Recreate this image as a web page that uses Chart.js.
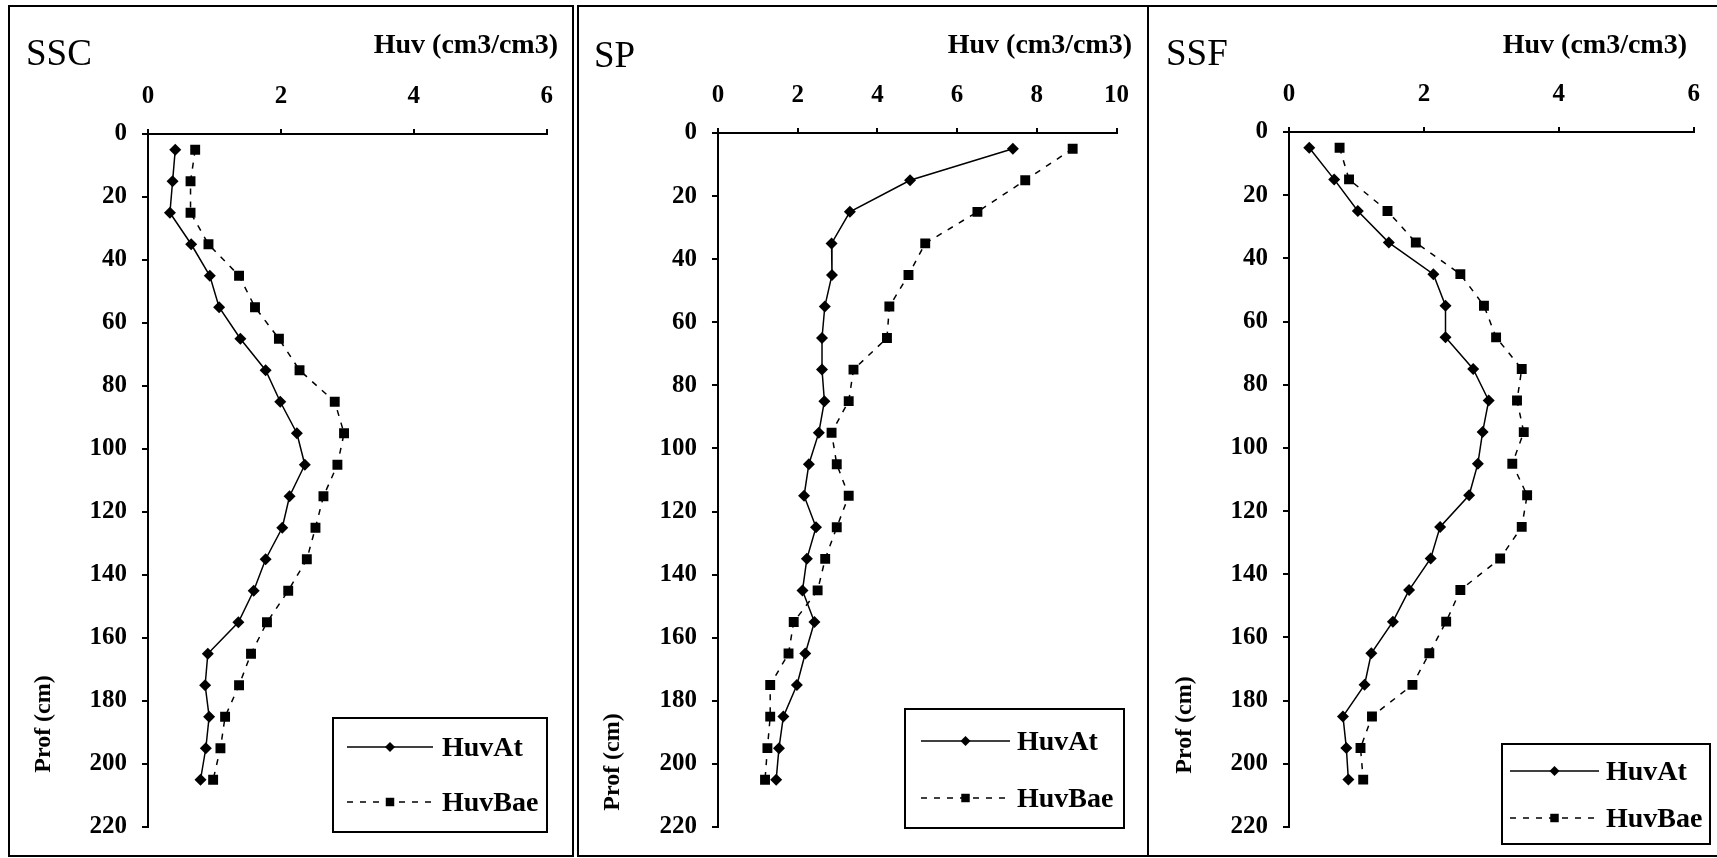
<!DOCTYPE html>
<html lang="fr">
<head>
<meta charset="UTF-8">
<title>Profils Huv - SSC / SP / SSF</title>
<script src="https://cdn.jsdelivr.net/npm/chart.js@4.4.0/dist/chart.umd.min.js"></script>
<style>
    body {
        margin: 0;
        width: 1717px;
        height: 858px;
        background: #fff;
        position: relative;
        overflow: hidden;
        font-family: 'Liberation Serif', 'Times New Roman', serif;
        color: #000;
    }
    .frame {
        position: absolute;
        top: 5px;
        height: 848px;
        border: 2px solid #000;
    }
    canvas {
        position: absolute;
        top: 0;
    }
    .name {
        position: absolute;
        font-size: 37px;
        line-height: 1;
        white-space: nowrap;
    }
    .unit {
        position: absolute;
        top: 30px;
        width: 220px;
        text-align: right;
        font-size: 28px;
        font-weight: bold;
        line-height: 1;
        white-space: nowrap;
    }
    .prof {
        position: absolute;
        width: 140px;
        height: 28px;
        line-height: 28px;
        text-align: center;
        font-size: 24px;
        font-weight: bold;
        transform: rotate(-90deg);
        white-space: nowrap;
    }
</style>
</head>
<body>
    <div class="frame" style="left:8px;width:562px"></div>
    <div class="frame" style="left:577px;width:568px"></div>
    <div class="frame" style="left:1147px;width:572px;border-right:none"></div>

    <canvas id="chartSSC" width="560" height="858" style="left:10px;width:560px;height:858px"></canvas>
    <canvas id="chartSP" width="566" height="858" style="left:580px;width:566px;height:858px"></canvas>
    <canvas id="chartSSF" width="567" height="858" style="left:1150px;width:567px;height:858px"></canvas>

    <div class="name" style="left:26px;top:34px">SSC</div>
    <div class="name" style="left:594px;top:36px">SP</div>
    <div class="name" style="left:1166px;top:34px">SSF</div>

    <div class="unit" style="left:338px">Huv (cm3/cm3)</div>
    <div class="unit" style="left:912px">Huv (cm3/cm3)</div>
    <div class="unit" style="left:1467px">Huv (cm3/cm3)</div>

    <div class="prof" style="left:-28px;top:710px">Prof (cm)</div>
    <div class="prof" style="left:541px;top:748px">Prof (cm)</div>
    <div class="prof" style="left:1113px;top:711px">Prof (cm)</div>

<script>
    // depth of each measure (cm)
    const depths = [5, 15, 25, 35, 45, 55, 65, 75, 85, 95, 105, 115, 125, 135, 145, 155, 165, 175, 185, 195, 205];
    const depthTicks = [0, 20, 40, 60, 80, 100, 120, 140, 160, 180, 200, 220];

    // SSC
    const sscHuvAt  = [0.41, 0.37, 0.33, 0.65, 0.93, 1.07, 1.39, 1.77, 1.99, 2.24, 2.36, 2.13, 2.02, 1.77, 1.59, 1.36, 0.90, 0.86, 0.92, 0.87, 0.79];
    const sscHuvBae = [0.71, 0.64, 0.64, 0.91, 1.37, 1.61, 1.97, 2.28, 2.81, 2.95, 2.85, 2.64, 2.52, 2.39, 2.11, 1.79, 1.55, 1.37, 1.16, 1.09, 0.98];

    // SP
    const spHuvAt  = [7.40, 4.82, 3.31, 2.85, 2.86, 2.68, 2.61, 2.61, 2.67, 2.53, 2.28, 2.16, 2.46, 2.23, 2.12, 2.42, 2.19, 1.98, 1.64, 1.53, 1.46];
    const spHuvBae = [8.90, 7.71, 6.51, 5.20, 4.78, 4.30, 4.24, 3.40, 3.28, 2.85, 2.98, 3.28, 2.98, 2.69, 2.50, 1.90, 1.77, 1.31, 1.31, 1.24, 1.18];

    // SSF
    const ssfHuvAt  = [0.30, 0.67, 1.02, 1.48, 2.14, 2.32, 2.32, 2.73, 2.96, 2.87, 2.80, 2.67, 2.24, 2.10, 1.78, 1.54, 1.22, 1.12, 0.80, 0.85, 0.88];
    const ssfHuvBae = [0.75, 0.89, 1.46, 1.88, 2.54, 2.89, 3.07, 3.45, 3.38, 3.48, 3.31, 3.53, 3.45, 3.13, 2.54, 2.33, 2.08, 1.83, 1.23, 1.06, 1.10];

    const seriesNames = ['HuvAt', 'HuvBae'];
    const serifFont = "'Liberation Serif', 'Times New Roman', serif";

    Chart.defaults.font.family = serifFont;
    Chart.defaults.color = '#000';

    function drawMarker(c, style, x, y, r) {
        c.beginPath();
        if (style === 'rectRot') {
            c.moveTo(x - r, y);
            c.lineTo(x, y - r);
            c.lineTo(x + r, y);
            c.lineTo(x, y + r);
            c.closePath();
        } else {
            const s = r * Math.SQRT1_2;
            c.rect(x - s, y - s, 2 * s, 2 * s);
        }
        c.fill();
    }

    // boxed legend drawn inside the plot, like the Excel one
    const boxLegend = {
        id: 'boxLegend',
        afterDraw(chart, args, opts) {
            const c = chart.ctx;
            c.save();
            c.lineWidth = 2;
            c.strokeStyle = '#000';
            c.strokeRect(opts.x, opts.y, opts.w, opts.h);
            chart.data.datasets.forEach((ds, i) => {
                const ry = opts.rows[i];
                c.beginPath();
                c.setLineDash(ds.borderDash || []);
                c.lineWidth = ds.borderWidth;
                c.moveTo(opts.lineX1, ry);
                c.lineTo(opts.lineX2, ry);
                c.stroke();
                c.setLineDash([]);
                c.fillStyle = '#000';
                drawMarker(c, ds.pointStyle, (opts.lineX1 + opts.lineX2) / 2, ry, ds.pointRadius - 1);
                c.font = 'bold 28px ' + serifFont;
                c.textBaseline = 'alphabetic';
                c.fillText(ds.label, opts.textX, ry + 9);
            });
            c.restore();
        }
    };

    function makeChart(id, xMax, atData, baeData, frame, legend) {
        const ctx = document.getElementById(id).getContext('2d');
        return new Chart(ctx, {
            type: 'scatter',
            data: {
                datasets: [
                    {
                        label: seriesNames[0],
                        data: depths.map((d, i) => ({ x: atData[i], y: d })),
                        showLine: true,
                        borderColor: '#000',
                        backgroundColor: '#000',
                        borderWidth: 1.5,
                        pointStyle: 'rectRot',
                        pointRadius: 6,
                        pointBorderWidth: 0,
                        tension: 0
                    },
                    {
                        label: seriesNames[1],
                        data: depths.map((d, i) => ({ x: baeData[i], y: d })),
                        showLine: true,
                        borderColor: '#000',
                        backgroundColor: '#000',
                        borderWidth: 1.5,
                        borderDash: [6, 7],
                        pointStyle: 'rect',
                        pointRadius: 7,
                        pointBorderWidth: 0,
                        tension: 0
                    }
                ]
            },
            options: {
                responsive: false,
                animation: false,
                devicePixelRatio: 1,
                events: [],
                layout: {
                    padding: { left: 0, top: 0, right: frame.right, bottom: frame.bottom }
                },
                scales: {
                    x: {
                        type: 'linear',
                        position: 'top',
                        min: 0,
                        max: xMax,
                        ticks: {
                            stepSize: 2,
                            padding: 17,
                            color: '#000',
                            font: { size: 25, weight: 'bold' }
                        },
                        grid: {
                            drawOnChartArea: false,
                            tickLength: 5,
                            color: '#000',
                            lineWidth: 2
                        },
                        border: { color: '#000', width: 2 },
                        afterFit: s => { s.height = frame.top; }
                    },
                    y: {
                        type: 'linear',
                        reverse: true,
                        min: 0,
                        max: 220,
                        afterBuildTicks: s => { s.ticks = depthTicks.map(v => ({ value: v })); },
                        ticks: {
                            padding: 15,
                            color: '#000',
                            font: { size: 25, weight: 'bold' }
                        },
                        grid: {
                            drawOnChartArea: false,
                            tickLength: 6,
                            color: '#000',
                            lineWidth: 2
                        },
                        border: { color: '#000', width: 2 },
                        afterFit: s => { s.width = frame.left; }
                    }
                },
                plugins: {
                    legend: { display: false },
                    tooltip: { enabled: false },
                    boxLegend: legend
                }
            },
            plugins: [boxLegend]
        });
    }

    makeChart('chartSSC', 6, sscHuvAt, sscHuvBae,
        { left: 138, top: 134, right: 19, bottom: 31 },
        { x: 323, y: 718, w: 214, h: 114, rows: [747, 802], lineX1: 337, lineX2: 423, textX: 432 });

    makeChart('chartSP', 10, spHuvAt, spHuvBae,
        { left: 138, top: 133, right: 28, bottom: 31 },
        { x: 325, y: 709, w: 219, h: 119, rows: [741, 798], lineX1: 341, lineX2: 430, textX: 437 });

    makeChart('chartSSF', 6, ssfHuvAt, ssfHuvBae,
        { left: 139, top: 132, right: 18, bottom: 31 },
        { x: 352, y: 744, w: 208, h: 100, rows: [771, 818], lineX1: 360, lineX2: 449, textX: 456 });
</script>
</body>
</html>
